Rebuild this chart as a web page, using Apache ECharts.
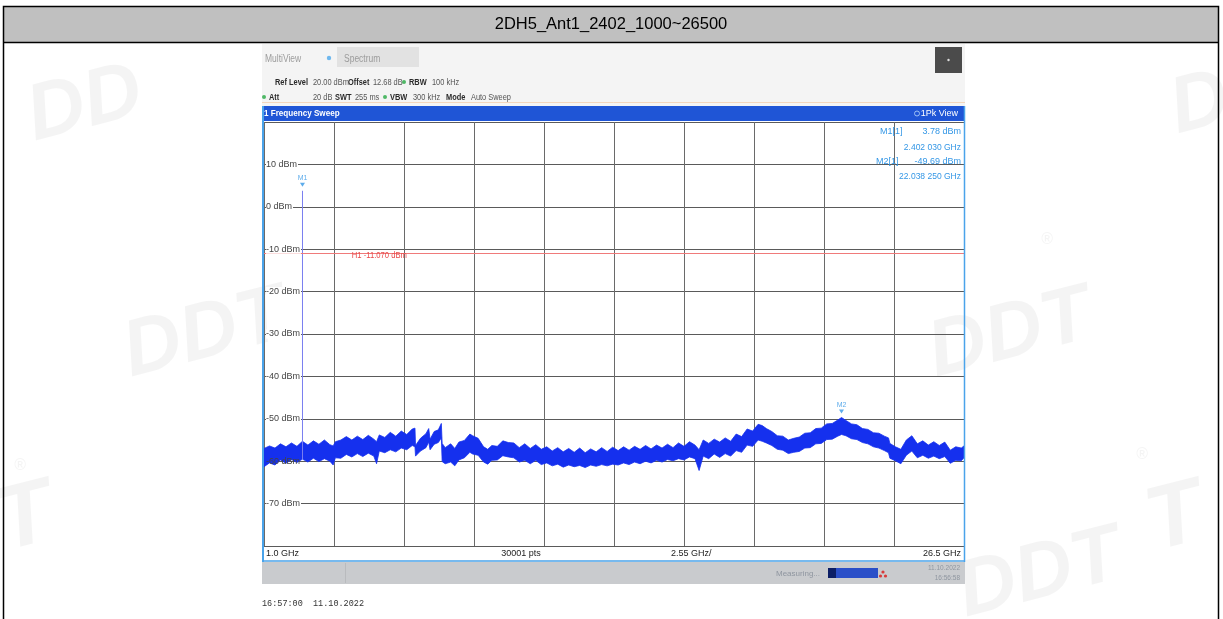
<!DOCTYPE html>
<html><head><meta charset="utf-8">
<script src="https://cdn.jsdelivr.net/npm/echarts@6/dist/echarts.min.js"></script>
<style>html,body{margin:0;padding:0;background:#fff;}#c{width:1223px;height:619px;}</style>
</head><body><div id="c"></div>
<script>
const chartTitle = '2DH5_Ant1_2402_1000~26500';
// trace envelope (GHz, dBm)
const traceFreq = [1.0,1.2,1.4,1.6,1.8,2.0,2.2,2.4,2.6,2.8,3.0,3.2,3.4,3.52,3.6,3.8,4.0,4.2,4.4,4.6,4.8,5.0,5.1,5.2,5.4,5.6,5.8,6.0,6.2,6.4,6.5,6.52,6.7,6.9,7.0,7.05,7.2,7.35,7.46,7.49,7.6,7.8,7.95,8.1,8.3,8.5,8.6,8.8,9.0,9.15,9.3,9.5,9.7,9.9,10.1,10.3,10.5,10.7,10.9,11.1,11.3,11.5,11.7,11.9,12.1,12.3,12.5,12.7,12.9,13.1,13.3,13.5,13.7,13.9,14.1,14.3,14.5,14.7,14.9,15.1,15.3,15.5,15.7,15.9,16.1,16.3,16.5,16.7,16.85,17.0,17.2,17.4,17.6,17.8,18.0,18.2,18.4,18.6,18.8,19.0,19.15,19.3,19.5,19.7,19.9,20.1,20.3,20.5,20.7,20.9,21.1,21.3,21.5,21.7,21.9,22.04,22.2,22.4,22.6,22.8,23.0,23.2,23.4,23.6,23.75,23.8,24.0,24.2,24.4,24.6,24.8,25.0,25.2,25.4,25.6,25.8,26.0,26.2,26.4,26.5];
const traceTop = [
  -57.0,-56.4,-56.9,-55.9,-56.6,-55.7,-56.5,-55.3,-56.2,-55.2,-56.0,-55.0,-56.1,
  -56.4,-55.4,
  -55.0,-54.2,-55.0,-54.1,-54.9,-53.9,-54.8,
  -55.4,
  -53.8,-54.4,-53.2,-54.1,-52.9,-53.7,-52.4,
  -52.2,-56.3,
  -54.6,-53.5,-52.3,-54.8,-53.0,-52.6,-51.1,-55.8,
  -56.8,-55.9,-57.0,
  -55.5,-55.1,-53.6,-54.0,-54.6,-56.6,-57.2,
  -56.3,-56.5,-55.2,-55.6,-55.7,-56.8,-55.9,-57.0,-56.1,-57.2,-56.6,-57.6,-56.8,-57.8,-57.0,-57.9,-56.9,-58.0,-57.1,-57.8,-56.8,-57.7,-56.7,-57.5,-56.6,-57.4,-56.5,-57.2,-56.3,-57.1,-56.2,-56.9,-56.0,-56.8,-55.7,-56.5,-55.4,-56.2,
  -57.3,
  -55.0,-55.8,-54.8,-55.5,-54.5,-55.3,-53.6,-54.2,-52.4,-52.9,-51.3,
  -51.6,
  -52.3,-53.0,-54.0,-54.1,-55.0,-54.6,-54.3,-53.4,-53.3,-52.3,-52.2,-51.2,-51.1,-50.3,
  -49.7,
  -50.4,-51.2,-51.4,-52.3,-52.5,-53.3,-53.4,-54.1,
  -54.5,-55.8,
  -56.6,-57.2,-55.0,-54.0,-55.9,-55.2,-56.2,-55.4,-56.3,-55.5,-57.4,-56.6,-56.9,
  -56.4];
const traceBottom = [
  -61.3,-60.4,-60.9,-59.7,-60.5,-59.6,-60.3,-59.5,-60.2,-59.3,-60.1,-59.4,-60.0,
  -60.9,-59.2,
  -59.3,-58.4,-59.0,-58.2,-58.9,-58.1,-58.8,
  -60.6,
  -57.6,-58.0,-57.3,-57.8,-56.9,-57.3,-56.3,
  -56.6,-58.8,
  -57.6,-56.8,-55.5,-57.3,-56.0,-55.6,-54.5,-60.1,
  -60.6,-60.2,-61.1,
  -59.7,-59.2,-57.9,-58.3,-58.6,-60.2,-60.7,
  -59.8,-59.7,-58.7,-59.0,-59.2,-60.2,-59.8,-60.6,-59.8,-60.8,-60.4,-61.1,-60.7,-61.4,-60.9,-61.3,-61.0,-61.5,-60.9,-61.2,-60.8,-61.1,-60.7,-60.9,-60.4,-60.8,-60.2,-60.6,-60.0,-60.4,-59.8,-60.2,-59.6,-59.9,-59.4,-59.7,-59.0,-59.4,
  -62.2,
  -58.8,-59.4,-58.3,-59.1,-58.2,-58.8,-57.5,-57.9,-56.2,-56.5,-55.0,
  -55.3,
  -55.7,-56.3,-57.2,-57.4,-58.2,-57.9,-57.7,-56.9,-56.8,-55.9,-55.8,-54.9,-54.8,-54.1,
  -53.7,
  -54.0,-54.7,-54.9,-55.6,-55.9,-56.6,-56.9,-57.5,
  -58.0,-59.3,
  -59.9,-60.6,-58.6,-57.6,-59.2,-58.6,-59.3,-58.8,-59.4,-58.9,-60.5,-59.8,-59.9,
  -59.2];
// markers
const markerNames = ['M1', 'M2'];
const markerFreq = [2.40203, 22.03825];
const markerLevel = [3.78, -49.69];
const spikeBase = -59.5;
const h1Level = -11.07;
const h1LabelFreq = 4.2;
// axis
const freqMin = 1.0, freqMax = 26.5;
const levelMin = -80, levelMax = 20, levelStep = 10;
const levelHiddenTicks = [20, -80];
const bottomInfo = ['1.0 GHz', '30001 pts', '2.55 GHz/', '26.5 GHz'];
const headerRow1 = ['Ref Level', '20.00 dBm', 'Offset', '12.68 dB', 'RBW', '100 kHz'];
const headerRow2 = ['Att', '20 dB', 'SWT', '255 ms', 'VBW', '300 kHz', 'Mode', 'Auto Sweep'];
const markerInfo = [['M1[1]', '3.78 dBm', '2.402 030 GHz'], ['M2[1]', '-49.69 dBm', '22.038 250 GHz']];
const timeStamp = '16:57:00  11.10.2022';

const chart = echarts.init(document.getElementById('c'), null, {renderer: 'canvas'});
const uiFont = '"Liberation Sans Narrow", "Liberation Sans", Arial, sans-serif';
const GL = 264, GT = 122, GW = 700, GH = 424;
const traceColor = '#1530ee';
const mkColor = '#3497e6';

function txt(x, y, s, opt) {
  opt = opt || {};
  return {type: 'text', x: x, y: y, z: opt.z || 20, silent: true, scaleX: opt.sx || 1,
    style: {text: s, fill: opt.color || '#333', font: (opt.weight || 'normal') + ' ' + (opt.size || 9) + 'px ' + (opt.family || uiFont),
      align: opt.align || 'left', verticalAlign: 'middle'}};
}
function hd(x, y, s, bold) {
  return txt(x, y, s, {weight: bold ? 'bold' : 'normal', color: bold ? '#2a2a2a' : '#555', size: 9.5, sx: 0.78});
}
function wm(x, y, s, size, rot) {
  return {type: 'text', x: x, y: y, rotation: rot || 0, z: 0, silent: true,
    style: {text: s, fill: 'rgba(0,0,0,0.045)', font: 'italic bold ' + size + 'px "Liberation Sans", Arial', align: 'center', verticalAlign: 'middle'}};
}

const graphics = [
  // watermarks
  wm(85, 105, 'DD', 80, 0.25), wm(1200, 105, 'D', 80, 0.25),
  wm(205, 335, 'DDT', 80, 0.25), wm(1010, 335, 'DDT', 80, 0.25),
  wm(25, 520, 'T', 90, 0.25), wm(1040, 575, 'DDT', 80, 0.25), wm(1175, 520, 'T', 90, 0.25),
  wm(1047, 240, '®', 16, 0), wm(1142, 455, '®', 16, 0), wm(20, 466, '®', 16, 0),
  // title band and border
  {type: 'rect', shape: {x: 3, y: 6, width: 1216, height: 36}, style: {fill: '#c0c0c0'}, z: 1},
  {type: 'rect', shape: {x: 3.5, y: 6.5, width: 1215, height: 640}, style: {fill: 'none', stroke: '#000', lineWidth: 1.5}, z: 30},
  {type: 'line', shape: {x1: 3, y1: 42.5, x2: 1219, y2: 42.5}, style: {stroke: '#000', lineWidth: 1.5}, z: 30},
  txt(611, 24, chartTitle, {size: 16.5, color: '#000', align: 'center', family: '"Liberation Sans", Arial, sans-serif'}),
  // instrument header
  {type: 'rect', shape: {x: 262, y: 44, width: 703, height: 62}, style: {fill: '#f4f4f4'}, z: 1},
  {type: 'rect', shape: {x: 337, y: 47, width: 82, height: 20}, style: {fill: '#e2e2e2'}, z: 2},
  {type: 'rect', shape: {x: 935, y: 47, width: 27, height: 26}, style: {fill: '#4b4b4b'}, z: 2},
  {type: 'circle', shape: {cx: 948.5, cy: 60, r: 1.2}, style: {fill: '#ddd'}, z: 3},
  txt(265, 59, 'MultiView', {color: '#9c9c9c', size: 10, sx: 0.85}),
  {type: 'circle', shape: {cx: 329, cy: 58, r: 2.2}, style: {fill: '#6fb8ee'}, z: 3},
  txt(344, 59, 'Spectrum', {color: '#9c9c9c', size: 10, sx: 0.85}),
  hd(275, 82, headerRow1[0], true), hd(313, 82, headerRow1[1], false),
  hd(348, 82, headerRow1[2], true), hd(373, 82, headerRow1[3], false),
  {type: 'circle', shape: {cx: 404, cy: 82, r: 2}, style: {fill: '#4fb866'}, z: 3},
  hd(409, 82, headerRow1[4], true), hd(432, 82, headerRow1[5], false),
  {type: 'circle', shape: {cx: 264, cy: 97, r: 2}, style: {fill: '#4fb866'}, z: 3},
  hd(269, 97, headerRow2[0], true), hd(313, 97, headerRow2[1], false),
  hd(335, 97, headerRow2[2], true), hd(355, 97, headerRow2[3], false),
  {type: 'circle', shape: {cx: 385, cy: 97, r: 2}, style: {fill: '#4fb866'}, z: 3},
  hd(390, 97, headerRow2[4], true), hd(413, 97, headerRow2[5], false),
  hd(446, 97, headerRow2[6], true), hd(471, 97, headerRow2[7], false),
  {type: 'line', shape: {x1: 262, y1: 102.5, x2: 965, y2: 102.5}, style: {stroke: '#f3d6bd', lineWidth: 1}, z: 2},
  // blue title bar of the diagram
  {type: 'rect', shape: {x: 262, y: 106, width: 703, height: 15}, style: {fill: '#1f55d6'}, z: 2},
  txt(264, 113.5, '1 Frequency Sweep', {color: '#fff', weight: 'bold', size: 9, sx: 0.9}),
  {type: 'circle', shape: {cx: 917, cy: 113.5, r: 2.5}, style: {fill: 'none', stroke: '#9cc0f5', lineWidth: 1}, z: 3},
  txt(958, 113.5, '1Pk View', {color: '#fff', size: 9, align: 'right'}),
  // frame
  {type: 'line', shape: {x1: 263, y1: 106, x2: 263, y2: 562}, style: {stroke: '#4aa3ea', lineWidth: 2}, z: 25},
  {type: 'line', shape: {x1: 964.5, y1: 106, x2: 964.5, y2: 562}, style: {stroke: '#4aa3ea', lineWidth: 1.5}, z: 25},
  {type: 'line', shape: {x1: 262, y1: 561, x2: 965, y2: 561}, style: {stroke: '#4aa3ea', lineWidth: 1.5}, z: 25},
  // bottom info row
  txt(266, 554, bottomInfo[0], {size: 9, color: '#222'}),
  txt(521, 554, bottomInfo[1], {size: 9, color: '#222', align: 'center'}),
  txt(671, 554, bottomInfo[2], {size: 9, color: '#222'}),
  txt(961, 554, bottomInfo[3], {size: 9, color: '#222', align: 'right'}),
  // status bar
  {type: 'rect', shape: {x: 262, y: 562, width: 703, height: 22}, style: {fill: '#c9cbce'}, z: 2},
  {type: 'line', shape: {x1: 345.5, y1: 563, x2: 345.5, y2: 583}, style: {stroke: '#b9bbbe', lineWidth: 1}, z: 3},
  txt(776, 574, 'Measuring...', {color: '#8f96a0', size: 8}),
  {type: 'rect', shape: {x: 828, y: 568, width: 50, height: 10}, style: {fill: '#2a4fc8'}, z: 3},
  {type: 'rect', shape: {x: 828, y: 568, width: 8, height: 10}, style: {fill: '#0c1f66'}, z: 4},
  {type: 'circle', shape: {cx: 883, cy: 572, r: 1.6}, style: {fill: '#d83a3a'}, z: 3},
  {type: 'circle', shape: {cx: 880.5, cy: 576, r: 1.6}, style: {fill: '#d83a3a'}, z: 3},
  {type: 'circle', shape: {cx: 885.5, cy: 576, r: 1.6}, style: {fill: '#d83a3a'}, z: 3},
  txt(960, 568, '11.10.2022', {color: '#8f96a0', size: 6.5, align: 'right'}),
  txt(960, 578, '16:56:58', {color: '#8f96a0', size: 6.5, align: 'right'}),
  txt(262, 604, timeStamp, {color: '#333', size: 8.5, family: '"Liberation Mono", "DejaVu Sans Mono", monospace'}),
  // marker readout
  txt(880, 132, markerInfo[0][0], {color: mkColor, size: 9}),
  txt(961, 132, markerInfo[0][1], {color: mkColor, size: 9, align: 'right'}),
  txt(961, 147.5, markerInfo[0][2], {color: mkColor, size: 8.5, align: 'right'}),
  txt(876, 162, markerInfo[1][0], {color: mkColor, size: 9}),
  txt(961, 162, markerInfo[1][1], {color: mkColor, size: 9, align: 'right'}),
  txt(961, 177, markerInfo[1][2], {color: mkColor, size: 8.5, align: 'right'})
];

const option = {
  animation: false,
  backgroundColor: '#ffffff',
  grid: {left: GL, top: GT, width: GW, height: GH, containLabel: false},
  xAxis: [
    {type: 'value', min: freqMin, max: freqMax, show: true, axisLine: {show: false}, axisTick: {show: false}, axisLabel: {show: false}, splitLine: {show: false}},
    {type: 'value', min: 0, max: 10, interval: 1, position: 'bottom', axisLine: {show: false}, axisTick: {show: false}, axisLabel: {show: false},
      splitLine: {show: true, lineStyle: {color: '#6a6a6a', width: 1}}}
  ],
  yAxis: [
    {type: 'value', min: levelMin, max: levelMax, interval: levelStep, axisLine: {show: false}, axisTick: {show: false}, axisLabel: {show: false},
      splitLine: {show: true, lineStyle: {color: '#5a5a5a', width: 1}}},
    {type: 'value', min: levelMin, max: levelMax, interval: levelStep, position: 'left', z: 10,
      axisLine: {show: false}, axisTick: {show: false}, splitLine: {show: false},
      axisLabel: {inside: true, margin: 2, color: '#444', fontSize: 9, fontFamily: uiFont,
        formatter: function (v) {
          if (levelHiddenTicks.indexOf(v) >= 0) return '';
          return v === -60 ? '{n|' + v + ' dBm}' : '{w|' + v + ' dBm}';
        },
        rich: {
          w: {backgroundColor: '#fff', color: '#444', fontSize: 9, fontFamily: uiFont, padding: [0, 1, 0, 0]},
          n: {color: '#444', fontSize: 9, fontFamily: uiFont}
        }}}
  ],
  series: [
    {
      name: 'trace', type: 'custom', xAxisIndex: 0, yAxisIndex: 0, z: 3, silent: true,
      data: [[traceFreq[0], traceTop[0]]],
      encode: {x: 0, y: 1},
      renderItem: function (params, api) {
        const pts = [];
        for (let i = 0; i < traceFreq.length; i++) pts.push(api.coord([traceFreq[i], traceTop[i]]));
        for (let i = traceFreq.length - 1; i >= 0; i--) pts.push(api.coord([traceFreq[i], traceBottom[i]]));
        return {type: 'polygon', shape: {points: pts}, style: {fill: traceColor, stroke: traceColor, lineWidth: 0.8}};
      }
    },
    {
      name: 'spike', type: 'line', xAxisIndex: 0, yAxisIndex: 0, z: 4, silent: true, symbol: 'none',
      lineStyle: {color: '#7a7ff0', width: 1},
      data: [[markerFreq[0], spikeBase], [markerFreq[0], markerLevel[0]]],
      markLine: {
        silent: true, symbol: 'none', label: {show: false},
        lineStyle: {color: '#f07a7a', width: 1, type: 'solid'},
        data: [{yAxis: h1Level}]
      }
    },
    {
      name: 'markers', type: 'scatter', xAxisIndex: 0, yAxisIndex: 0, z: 6, silent: true,
      symbol: 'triangle', symbolRotate: 180, symbolSize: [5, 4], symbolOffset: [0, -6],
      itemStyle: {color: mkColor},
      label: {show: true, position: 'top', distance: 1, color: mkColor, fontSize: 7, fontFamily: uiFont,
        formatter: function (p) { return markerNames[p.dataIndex]; }},
      data: markerFreq.map(function (f, i) { return [f, markerLevel[i]]; })
    }
  ],
  graphic: graphics
};
chart.setOption(option);
// H1 label positioned with the axis scales
const h1y = chart.convertToPixel({yAxisIndex: 0}, h1Level);
const h1x = chart.convertToPixel({xAxisIndex: 0}, h1LabelFreq);
chart.setOption({graphic: graphics.concat([txt(h1x, h1y + 2, 'H1 -11.070 dBm', {color: '#e84a4a', size: 9, sx: 0.85})])});
</script></body></html>
